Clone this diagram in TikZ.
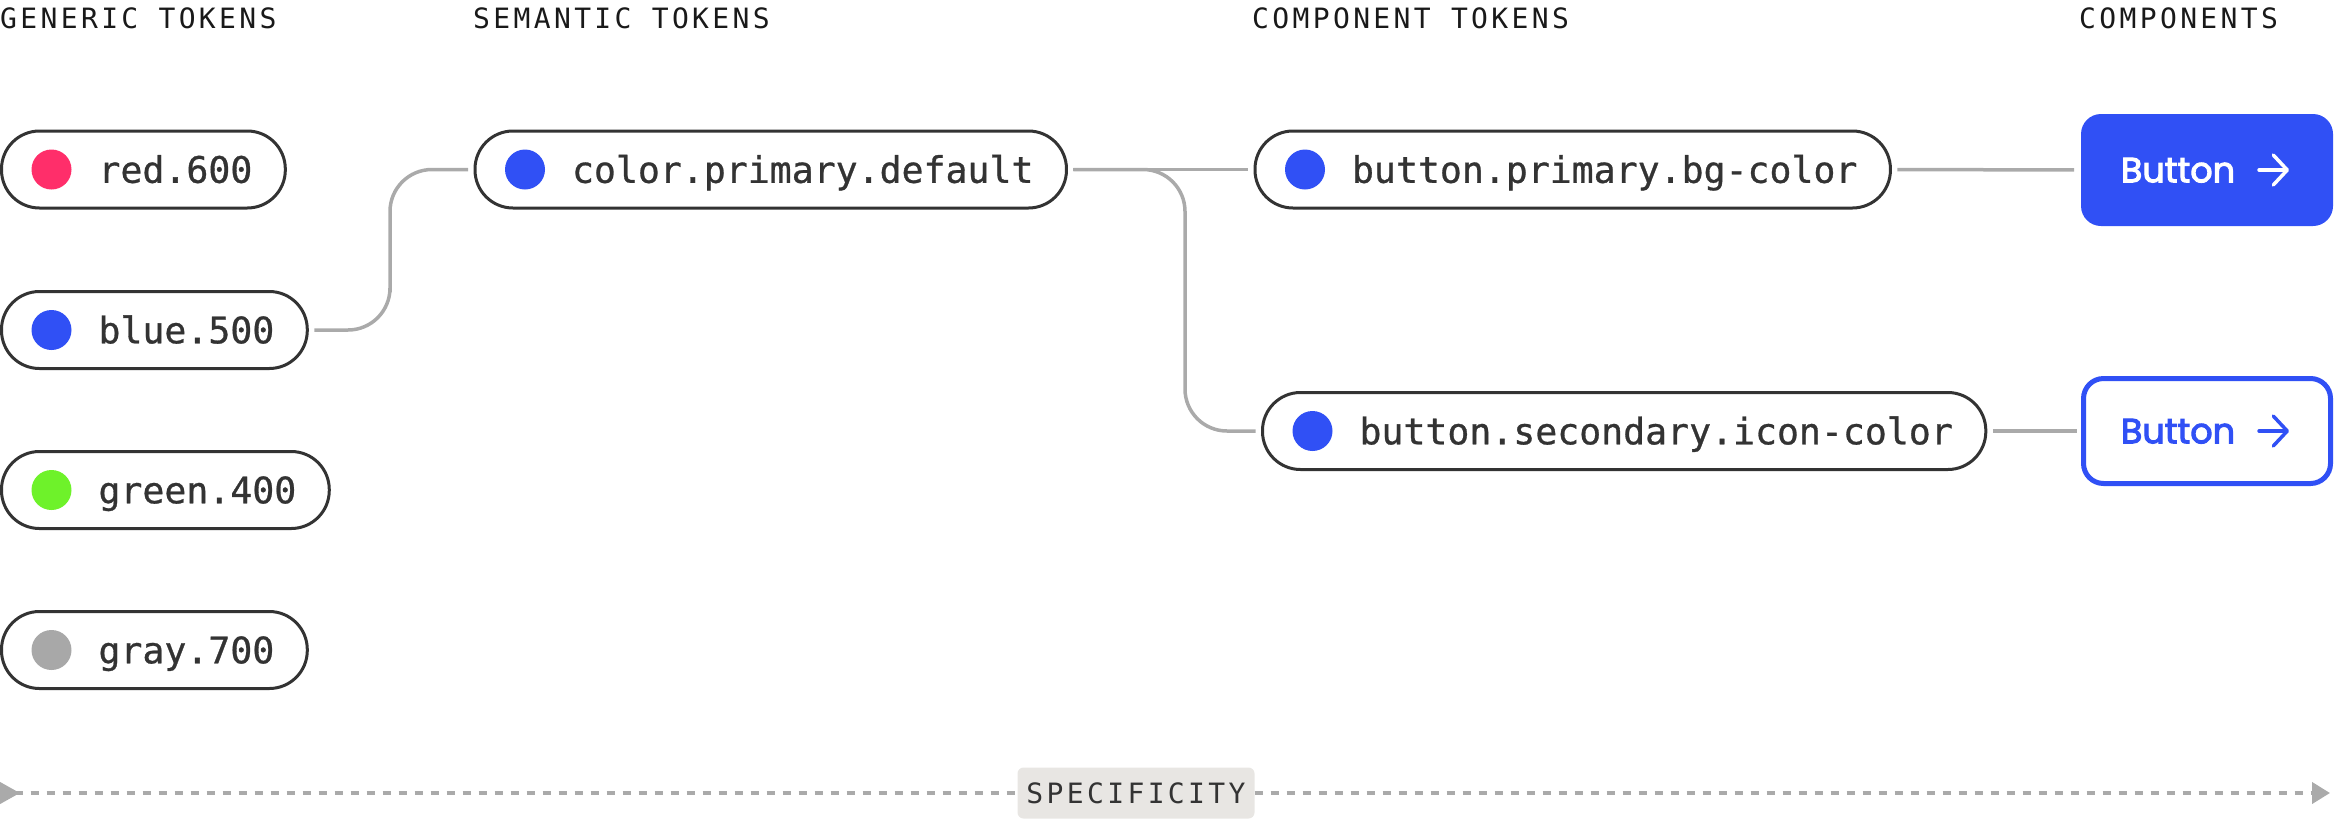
\documentclass[tikz,border=0pt]{standalone}
\usepackage{fontspec}
\usetikzlibrary{arrows.meta,positioning}
\newfontfamily\monofont[FakeBold=0.8]{DejaVu Sans Mono}
\newfontfamily\headfont[LetterSpace=12]{DejaVu Sans Mono}
\newfontfamily\btnfont[FakeBold=3]{Poppins}
\definecolor{ink}{HTML}{333333}
\definecolor{wire}{HTML}{AAAAAA}
\definecolor{brand}{HTML}{3050F5}
\definecolor{rose}{HTML}{FF2E6A}
\definecolor{lime}{HTML}{6EF22A}
\definecolor{ash}{HTML}{A8A8A8}
\definecolor{chipgray}{HTML}{E8E6E3}

\tikzset{
  token/.style={draw=ink,line width=3pt,fill=white,rectangle,rounded corners=38pt,
    minimum height=77pt,inner xsep=33pt,inner ysep=0pt,outer sep=0pt,anchor=west,
    text=ink,font=\monofont\fontsize{36.5}{40}\selectfont,text height=26.6pt,text depth=0pt},
  swatch/.style={circle,minimum size=40pt,inner sep=0pt,fill=#1},
  heading/.style={anchor=base west,inner sep=0pt,text=black!90,font=\headfont\fontsize{28}{30}\selectfont},
  link/.style={draw=wire,line width=3.5pt,rounded corners=42pt,shorten <=7pt,shorten >=7pt},
  uibutton/.style={rectangle,rounded corners=20pt,minimum width=252pt,minimum height=112pt,
    inner sep=0pt,outer sep=0pt,font=\btnfont\fontsize{35}{38}\selectfont,
    text height=24.5pt,text depth=0pt},
  btnarrow/.style={line width=3.5pt,line cap=round,line join=round,
    -{Straight Barb[length=14pt,width=30pt,line cap=round,line join=round]}},
  chip/.style={fill=chipgray,rounded corners=6pt,minimum width=237pt,minimum height=51pt,
    inner sep=0pt,text=ink,font=\headfont\fontsize{28}{30}\selectfont,text height=20pt,text depth=0pt},
  scaleline/.style={draw=wire,line width=4pt,dash pattern=on 8pt off 8pt}
}

\begin{document}
\begin{tikzpicture}[x=1pt,y=-1pt]
\useasboundingbox (0,0) rectangle (2334,820);

% column titles
\node[heading] (h1) at (0,28) {GENERIC TOKENS};
\node[heading] (h2) at (473,28) {SEMANTIC TOKENS};
\node[heading] (h3) at (1252,28) {COMPONENT TOKENS};
\node[heading] (h4) at (2079,28) {COMPONENTS};

% generic tokens
\node[token] (red) at (1.5,169.5) {\hspace*{64pt}red.600};
\node[token] (blue) at (1.5,330) {\hspace*{64pt}blue.500};
\node[token] (green) at (1.5,490) {\hspace*{64pt}green.400};
\node[token] (gray) at (1.5,650) {\hspace*{64pt}gray.700};
\node[swatch=rose] (dred) at ([xshift=50pt]red.west) {};
\node[swatch=brand] (dblue) at ([xshift=50pt]blue.west) {};
\node[swatch=lime] (dgreen) at ([xshift=50pt]green.west) {};
\node[swatch=ash] (dgray) at ([xshift=50pt]gray.west) {};

% semantic + component tokens
\node[token] (cpd) at (475,169.5) {\hspace*{64pt}color.primary.default};
\node[token] (bg) at (1255,169.5) {\hspace*{64pt}button.primary.bg-color};
\node[token] (icon) at (1262.5,431) {\hspace*{64pt}button.secondary.icon-color};
\node[swatch=brand] (dcpd) at ([xshift=50pt]cpd.west) {};
\node[swatch=brand] (dbg) at ([xshift=50pt]bg.west) {};
\node[swatch=brand] (dicon) at ([xshift=50pt]icon.west) {};

% components
\node[uibutton,fill=brand,text=white] (btnA) at (2207,170) {Button\hspace*{58pt}};
\node[uibutton,draw=brand,line width=5pt,fill=white,text=brand,minimum width=247pt,minimum height=105pt]
  (btnB) at (2207,431) {Button\hspace*{58pt}};
\draw[btnarrow,white] ([xshift=52pt]btnA.center) -- ([xshift=82pt]btnA.center);
\draw[btnarrow,brand] ([xshift=52pt]btnB.center) -- ([xshift=82pt]btnB.center);

% links
\coordinate (j0) at (390,250);
\coordinate (j1) at (1185,300);
\draw[link] (blue.east) -| (j0) |- (cpd.west);
\draw[link] (cpd.east) -- (bg.west);
\draw[link] (cpd.east) -| (j1) |- (icon.west);
\draw[link] (bg.east) -- (btnA.west);
\draw[link] (icon.east) -- (btnB.west);

% specificity axis
\coordinate (s0) at (0,793);
\coordinate (s1) at (2330,793);
\node[chip] (spec) at (1136,793) {SPECIFICITY};
\draw[scaleline,{Triangle[reversed,length=20pt,width=21pt]}-] (s0) -- (spec.west);
\draw[scaleline,-{Triangle[length=18pt,width=21pt]}] (spec.east) -- (s1);
\end{tikzpicture}
\end{document}
